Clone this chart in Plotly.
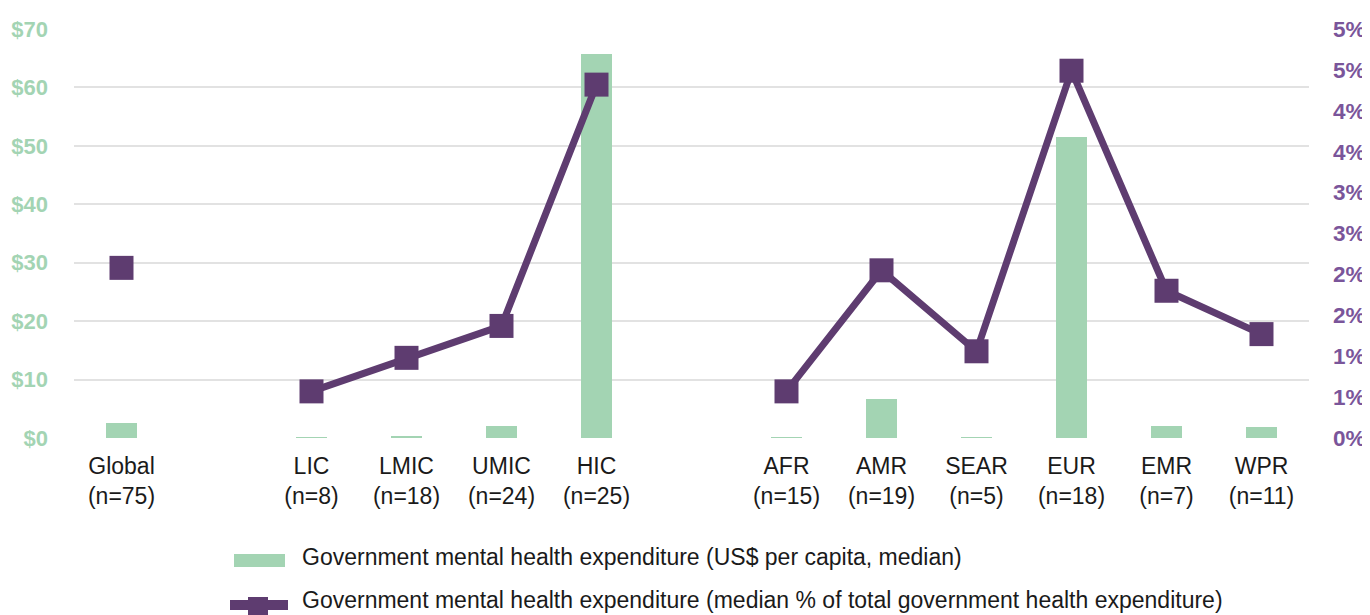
import plotly.graph_objects as go

categories = ["Global<br>(n=75)", "", "LIC<br>(n=8)", "LMIC<br>(n=18)", "UMIC<br>(n=24)", "HIC<br>(n=25)", "",
              "AFR<br>(n=15)", "AMR<br>(n=19)", "SEAR<br>(n=5)", "EUR<br>(n=18)", "EMR<br>(n=7)", "WPR<br>(n=11)"]
usd_per_capita = [2.6, None, 0.1, 0.2, 2.05, 65.7, None, 0.1, 6.7, 0.1, 51.5, 2.05, 1.9]
pct_of_health = [2.08, None, 0.57, 0.98, 1.37, 4.32, None, 0.57, 2.05, 1.06, 4.49, 1.80, 1.27]
left_ticks = [0, 10, 20, 30, 40, 50, 60, 70]
right_ticks = [0, 0.5, 1, 1.5, 2, 2.5, 3, 3.5, 4, 4.5, 5]
right_labels = ["0%", "1%", "1%", "2%", "2%", "3%", "3%", "4%", "4%", "5%", "5%"]
legend_names = ["Government mental health expenditure (US$ per capita, median)",
                "Government mental health expenditure (median % of total government health expenditure)"]

GREEN = "#a3d4b3"
PURPLE = "#5e3c70"
FONT = "Liberation Sans, Arial, sans-serif"

# page offset (body margin) and layout geometry
OFF = 8
W, H = 1362, 607
L, T = 66, 21
PW, PH = 1235, 409
R = W - L - PW
B = H - T - PH


def px(xp):
    return (xp - OFF - L) / PW


def py(yp):
    return 1 - (yp - OFF - T) / PH


xpos = list(range(len(categories)))
tickvals = [i for i, c in enumerate(categories) if c]
ticktext = [c for c in categories if c]

fig = go.Figure()
fig.add_trace(go.Bar(
    x=xpos, y=usd_per_capita, width=0.33, marker=dict(color=GREEN, line=dict(width=0)),
    name=legend_names[0], yaxis="y", showlegend=False,
))
fig.add_trace(go.Scatter(
    x=xpos, y=pct_of_health, mode="lines+markers", connectgaps=False,
    line=dict(color=PURPLE, width=7),
    marker=dict(symbol="square", size=24, color=PURPLE),
    name=legend_names[1], yaxis="y2", showlegend=False,
))

shapes = [
    dict(type="rect", xref="paper", yref="paper", x0=px(234), x1=px(285), y0=py(554), y1=py(567),
         fillcolor=GREEN, line=dict(width=0), layer="above"),
    dict(type="line", xref="paper", yref="paper", x0=px(230), x1=px(288), y0=py(605), y1=py(605),
         line=dict(color=PURPLE, width=10), layer="above"),
    dict(type="rect", xref="paper", yref="paper", x0=px(248), x1=px(268), y0=py(597), y1=py(615),
         fillcolor=PURPLE, line=dict(width=0), layer="above"),
]
annotations = [
    dict(xref="paper", yref="paper", x=px(300), y=py(557), text=legend_names[0], showarrow=False,
         xanchor="left", yanchor="middle", font=dict(size=23, color="#1a1a1a")),
    dict(xref="paper", yref="paper", x=px(300), y=py(600), text=legend_names[1], showarrow=False,
         xanchor="left", yanchor="middle", font=dict(size=23, color="#1a1a1a")),
]

fig.update_layout(
    width=W, height=H,
    margin=dict(l=L, r=R, t=T, b=B, autoexpand=False),
    plot_bgcolor="white", paper_bgcolor="white",
    font=dict(family=FONT, size=23, color="#1a1a1a"),
    showlegend=False,
    shapes=shapes,
    annotations=annotations,
    xaxis=dict(range=[-0.5, 12.5], tickvals=tickvals, ticktext=ticktext,
               showgrid=False, zeroline=False, showline=False, ticks="",
               ticklabelstandoff=12, tickfont=dict(size=23, color="#1a1a1a")),
    yaxis=dict(range=[0, 70], tickvals=left_ticks, ticktext=[f"${v}" for v in left_ticks],
               showgrid=True, gridcolor="#e2e2e2", gridwidth=2, zeroline=False,
               tickfont=dict(size=22, color=GREEN, weight="bold"),
               ticklabelstandoff=25),
    yaxis2=dict(range=[0, 5], tickvals=right_ticks, ticktext=right_labels, overlaying="y",
                side="right", showgrid=False, zeroline=False,
                tickfont=dict(size=22.5, color="#7a559a", weight="bold"),
                ticklabelstandoff=23),
    bargap=0,
)

fig.write_html("out.html")
